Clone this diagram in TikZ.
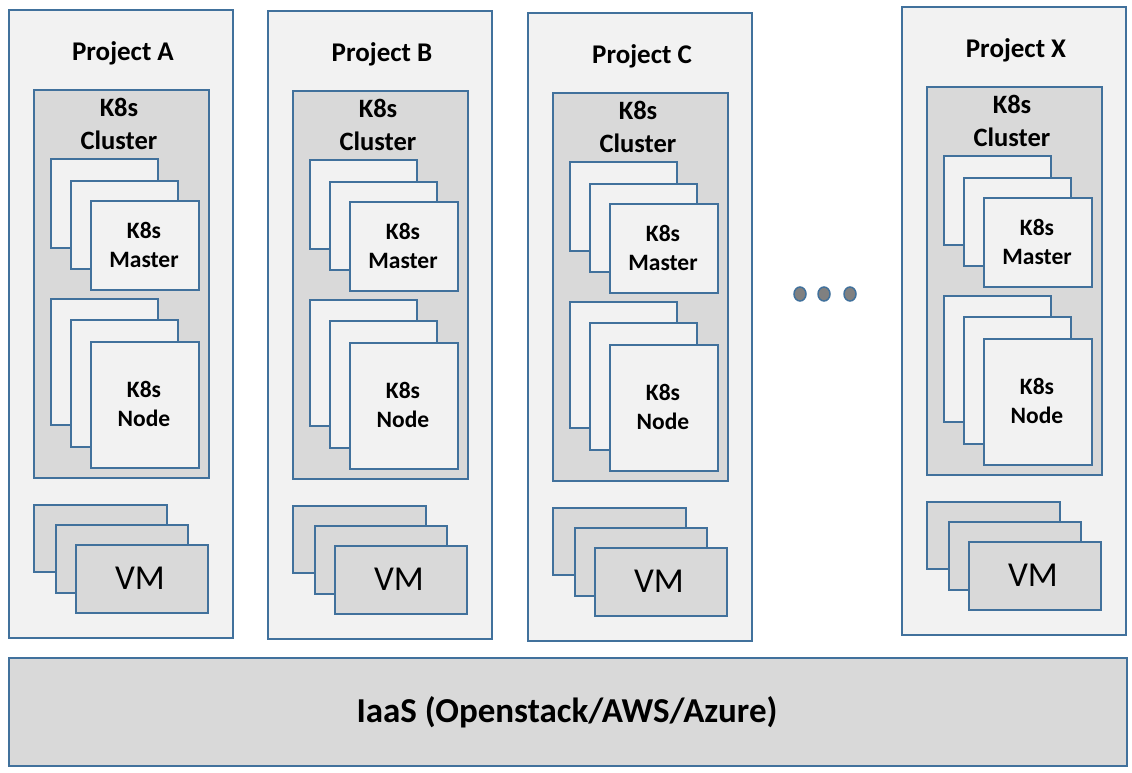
\documentclass[tikz,border=0pt]{standalone}
\usepackage{fontspec}
\setmainfont{Carlito}
\definecolor{bl}{HTML}{41719C}
\definecolor{lg}{HTML}{F2F2F2}
\definecolor{dg}{HTML}{D9D9D9}
\definecolor{dotg}{HTML}{808080}
\usetikzlibrary{shapes.geometric}
\tikzset{
  lightbox/.style={draw=bl, fill=lg, line width=1.8pt, inner sep=0},
  darkbox/.style={draw=bl, fill=dg, line width=1.8pt, inner sep=0},
  titletxt/.style={font=\bfseries\fontsize{27}{32}\selectfont, anchor=base, inner sep=0},
  clustertxt/.style={font=\bfseries\fontsize{26.5}{33}\selectfont, anchor=base, inner sep=0, align=center},
  roletxt/.style={font=\bfseries\fontsize{23.5}{29}\selectfont, anchor=base, inner sep=0, align=center},
  vmtxt/.style={font=\fontsize{35}{40}\selectfont, anchor=base, inner sep=0},
  iaastxt/.style={font=\bfseries\fontsize{35}{40}\selectfont, anchor=base, inner sep=0},
  dotstyle/.style={draw=bl, fill=dotg, line width=1.5pt, ellipse, minimum width=12pt, minimum height=14pt, inner sep=0}
}
\newcommand\rbox[6]{\node[#6, anchor=north west, minimum width={(#4-#2)*1pt}, minimum height={(#5-#3)*1pt}] (#1) at (#2,#3) {};}
\newcommand\projcol[4]{%
\begin{scope}[shift={(#2,#3)}]
\rbox{#1-box}{8}{9}{232}{637}{lightbox}
\node[titletxt] (#1-title) at (123,60) {Project #4};
\rbox{#1-cluster}{33}{89}{208}{477}{darkbox}
\node[clustertxt] (#1-clt) at (119,149) {K8s\\Cluster};
\rbox{#1-m1}{50}{158}{157}{247}{lightbox}
\rbox{#1-m2}{70}{180}{177}{268}{lightbox}
\rbox{#1-m3}{90}{200}{198}{289}{lightbox}
\node[roletxt] (#1-mt) at (144,267) {K8s\\Master};
\rbox{#1-n1}{50}{298}{157}{424}{lightbox}
\rbox{#1-n2}{70}{319}{177}{446}{lightbox}
\rbox{#1-n3}{90}{341}{198}{467}{lightbox}
\node[roletxt] (#1-nt) at (144,426) {K8s\\Node};
\rbox{#1-v1}{33}{504}{166}{571}{darkbox}
\rbox{#1-v2}{55}{524}{187}{592}{darkbox}
\rbox{#1-v3}{75}{544}{207}{612}{darkbox}
\node[vmtxt] (#1-vt) at (140,589) {VM};
\end{scope}}
\begin{document}
\begin{tikzpicture}[x=1pt,y=-1pt]
\useasboundingbox (0,0) rectangle (1132,772);
\projcol{A}{0}{0}{A}
\projcol{B}{259}{1}{B}
\projcol{C}{519}{3}{C}
\projcol{X}{893}{-3}{X}
\node[dotstyle] (d1) at (800,294) {};
\node[dotstyle] (d2) at (824,294) {};
\node[dotstyle] (d3) at (850,294) {};
\rbox{iaas}{8}{657}{1126}{765}{darkbox}
\node[iaastxt] (iaast) at (567,722) {IaaS (Openstack/AWS/Azure)};
\end{tikzpicture}
\end{document}
